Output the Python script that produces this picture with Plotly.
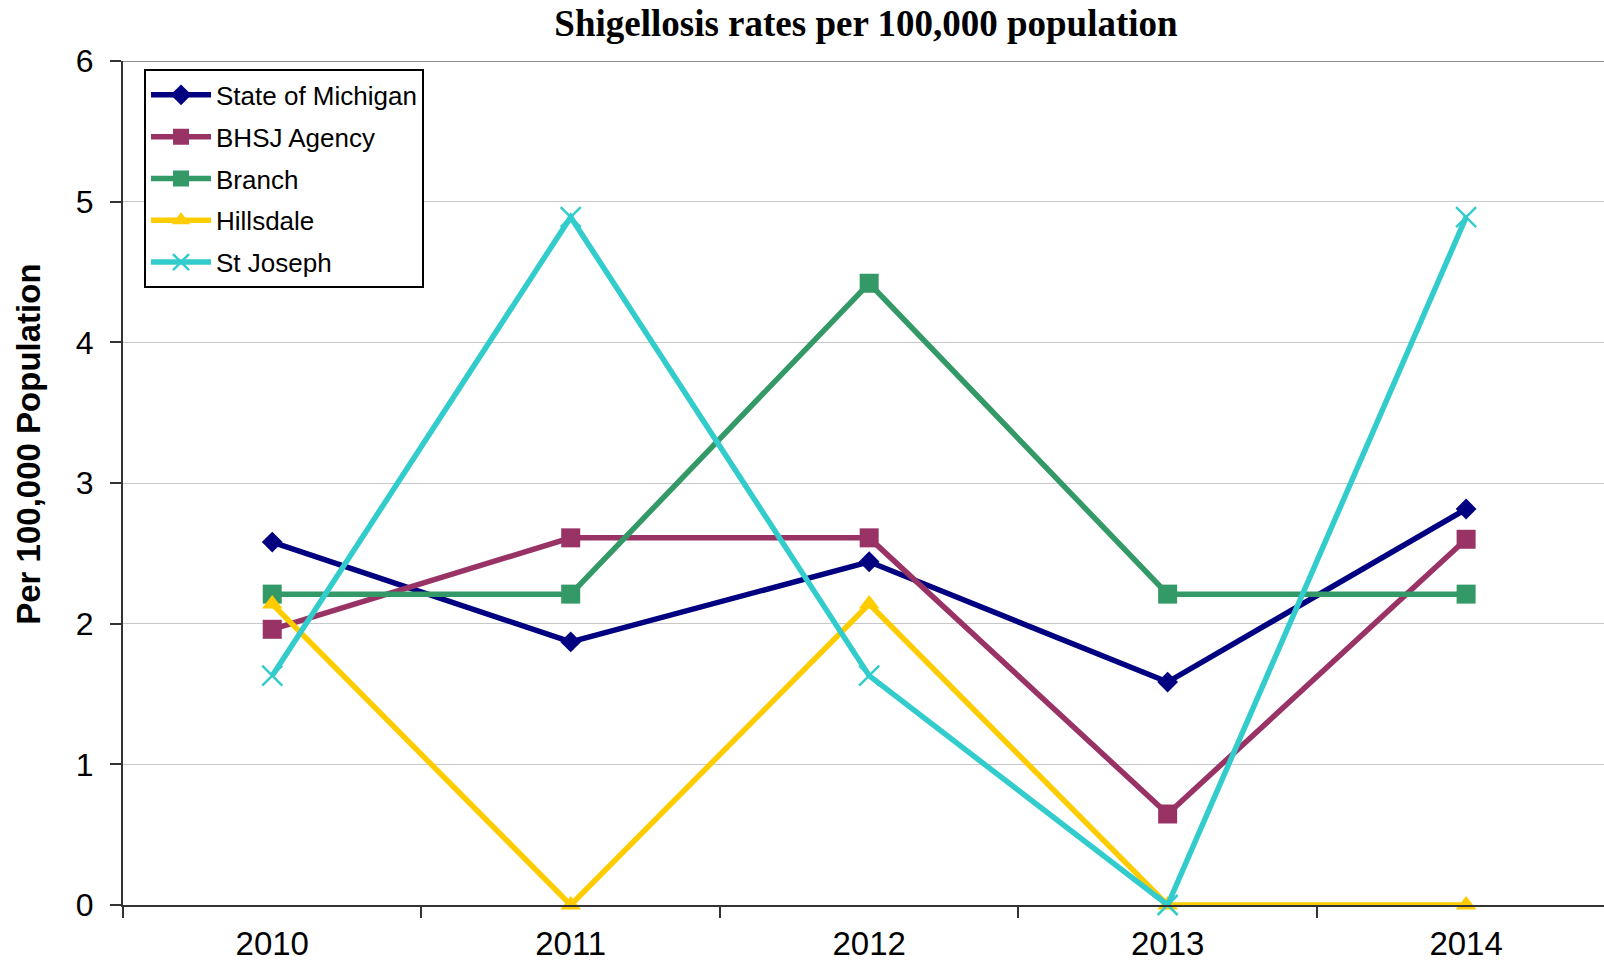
import plotly.graph_objects as go

# Reporting years (category axis)
years = ["2010", "2011", "2012", "2013", "2014"]

# Shigellosis rates per 100,000 population
michigan = [2.58, 1.87, 2.44, 1.585, 2.815]
bhsj = [1.96, 2.61, 2.61, 0.647, 2.60]
branch = [2.21, 2.21, 4.42, 2.21, 2.21]
hillsdale = [2.14, 0.0, 2.14, 0.0, 0.0]
st_joseph = [1.63, 4.89, 1.63, 0.0, 4.89]

y_ticks = [0, 1, 2, 3, 4, 5, 6]

series = [
    ("State of Michigan", michigan, "#000080", "diamond", 16, 0),
    ("BHSJ Agency", bhsj, "#993366", "square", 19, 0),
    ("Branch", branch, "#339966", "square", 19, 0),
    ("Hillsdale", hillsdale, "#FFCC00", "triangle-up", 18, 0),
    ("St Joseph", st_joseph, "#33CCCC", "x-thin", 20, 2.5),
]

SANS = "Liberation Sans, Arial, sans-serif"
SERIF = "Liberation Serif, Times New Roman, serif"

fig = go.Figure()
for name, vals, color, symbol, msize, mline in series:
    fig.add_trace(go.Scatter(
        x=years, y=vals, name=name, mode="lines+markers",
        legendgroup=name,
        line=dict(color=color, width=5.5),
        marker=dict(symbol=symbol, size=msize, color=color,
                    line=dict(color=color, width=mline)),
        cliponaxis=False,
    ))

# darker frame line along the top of the plot area
fig.add_shape(type="line", xref="paper", yref="y", x0=0, x1=1, y0=6, y1=6,
              line=dict(color="#8c8c8c", width=2), layer="below")

# rotated y-axis caption
fig.add_annotation(text="<b>Per 100,000 Population</b>", textangle=-90,
                   xref="paper", yref="paper",
                   x=-(123 - 29) / 1481, y=(905.5 - 445) / 844.5,
                   xanchor="center", yanchor="middle", showarrow=False,
                   font=dict(family=SANS, size=33, color="black"))

fig.update_layout(
    width=1604, height=961,
    margin=dict(l=123, r=0, t=61, b=55.5),
    paper_bgcolor="white", plot_bgcolor="white",
    title=dict(text="<b>Shigellosis rates per 100,000 population</b>",
               x=866 / 1604, xanchor="center", xref="container",
               y=1 - 23 / 961, yanchor="middle", yref="container",
               font=dict(family=SERIF, size=37, color="black")),
    showlegend=True,
    legend=dict(x=0.0142, y=0.99, xanchor="left", yanchor="top",
                bgcolor="white", bordercolor="black", borderwidth=2,
                font=dict(family=SANS, size=26, color="black"),
                itemwidth=60, traceorder="grouped", tracegroupgap=5),
    xaxis=dict(type="category", range=[-0.5, 4.462],
               tickson="boundaries", ticks="outside", ticklen=11,
               tickwidth=1.5, tickcolor="#333333",
               showline=True, linecolor="#333333", linewidth=2,
               showgrid=False, zeroline=False,
               tickfont=dict(family=SANS, size=33, color="black"),
               ticklabelstandoff=8),
    yaxis=dict(range=[0, 6], tickvals=y_ticks, ticks="outside", ticklen=11,
               tickwidth=1.5, tickcolor="#333333",
               showline=True, linecolor="#333333", linewidth=2,
               showgrid=True, gridcolor="#c8c8c8", gridwidth=1,
               zeroline=False,
               tickfont=dict(family=SANS, size=32, color="black"),
               ticklabelstandoff=10),
)

fig.write_html("out.html")
